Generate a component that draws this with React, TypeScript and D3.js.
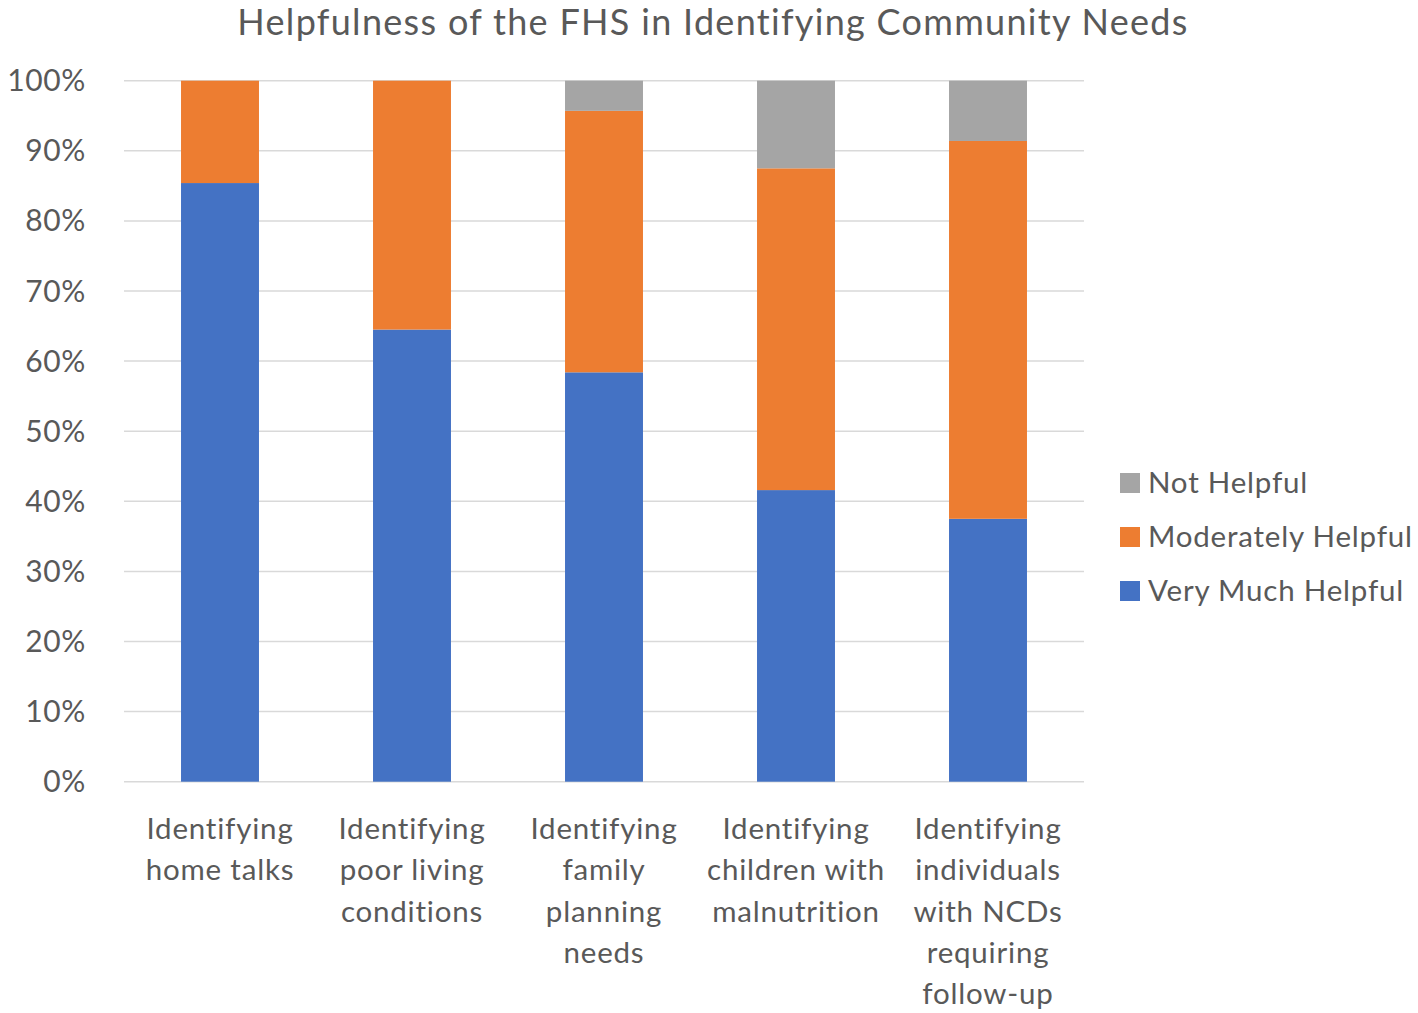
import React from "react";
import * as d3 from "d3";

const categories = [
  ["Identifying", "home talks"],
  ["Identifying", "poor living", "conditions"],
  ["Identifying", "family", "planning", "needs"],
  ["Identifying", "children with", "malnutrition"],
  ["Identifying", "individuals", "with NCDs", "requiring", "follow-up"],
];
const veryMuch = [85.4, 64.5, 58.4, 41.6, 37.5];
const moderately = [14.6, 35.5, 37.3, 45.9, 53.9];
const notHelpful = [0, 0, 4.3, 12.5, 8.6];
const seriesNames = ["Very Much Helpful", "Moderately Helpful", "Not Helpful"];
const seriesColors = ["#4472C4", "#ED7D31", "#A5A5A5"];
const yTicks = [0, 10, 20, 30, 40, 50, 60, 70, 80, 90, 100];
const title = "Helpfulness of the FHS in Identifying Community Needs";

const W = 1418;
const H = 1013;
const FONT = "Lato, 'Open Sans', sans-serif";
const TEXT = "#595959";

export default function App() {
  const x = d3
    .scaleBand<number>()
    .domain(d3.range(categories.length))
    .range([124, 1084])
    .paddingInner(0.594)
    .paddingOuter(0.297);
  const y = d3.scaleLinear().domain([0, 100]).range([781.7, 80.7]);
  const rows = categories.map((_, i) => ({
    i,
    v0: veryMuch[i],
    v1: moderately[i],
    v2: notHelpful[i],
  }));
  const stack = d3.stack<any>().keys(["v0", "v1", "v2"]);
  const layers = stack(rows);

  return (
    <svg
      width={W}
      height={H}
      style={{ position: "absolute", left: 0, top: 0, background: "#fff" }}
      fontFamily={FONT}
    >
      <text
        x={713}
        y={35}
        textAnchor="middle"
        fontSize={36}
        letterSpacing={1.3}
        fill={TEXT}
      >
        {title}
      </text>
      {yTicks.map((t) => (
        <g key={t}>
          <line x1={124} x2={1084} y1={y(t)} y2={y(t)} stroke="#D9D9D9" strokeWidth={1.5} />
          <text
            x={86}
            y={y(t)}
            dy="0.35em"
            textAnchor="end"
            fontSize={30}
            letterSpacing={0.6}
            fill={TEXT}
          >
            {t}%
          </text>
        </g>
      ))}
      {layers.map((layer, li) => (
        <g key={li} fill={seriesColors[li]}>
          {layer.map((d, i) =>
            d[1] - d[0] > 0 ? (
              <rect
                key={i}
                x={x(i)!}
                width={x.bandwidth()}
                y={y(d[1])}
                height={y(d[0]) - y(d[1])}
              />
            ) : null
          )}
        </g>
      ))}
      {categories.map((lines, i) => (
        <text
          key={i}
          x={x(i)! + x.bandwidth() / 2}
          textAnchor="middle"
          fontSize={29.5}
          letterSpacing={0.8}
          fill={TEXT}
        >
          {lines.map((l, j) => (
            <tspan key={j} x={x(i)! + x.bandwidth() / 2} y={839 + j * 41.3}>
              {l}
            </tspan>
          ))}
        </text>
      ))}
      {[2, 1, 0].map((s, k) => (
        <g key={s} transform={`translate(1120, ${483 + k * 54})`}>
          <rect x={0} y={-10} width={20} height={20} fill={seriesColors[s]} />
          <text
            x={28}
            y={0}
            dy="0.35em"
            fontSize={29.5}
            letterSpacing={0.8}
            fill={TEXT}
          >
            {seriesNames[s]}
          </text>
        </g>
      ))}
    </svg>
  );
}
